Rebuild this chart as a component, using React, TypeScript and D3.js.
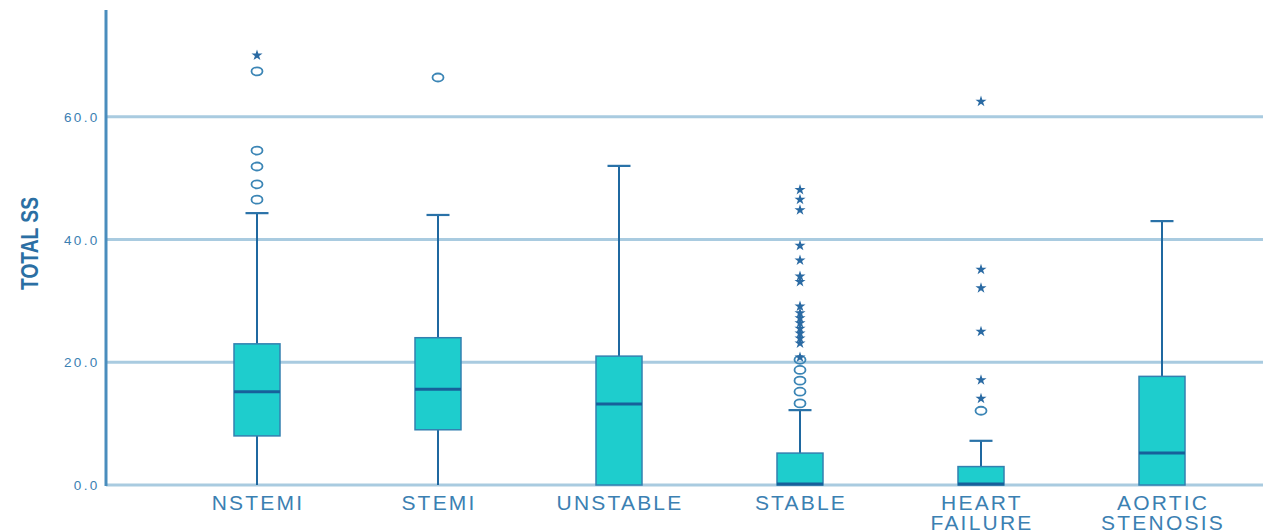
import React from "react";
import * as d3 from "d3";

const categories = ["NSTEMI", "STEMI", "UNSTABLE", "STABLE", "HEART FAILURE", "AORTIC STENOSIS"];
const whiskerLow = [0, 0, 0, 0, 0, 0];
const q1 = [8.0, 9.0, 0, 0, 0, 0];
const median = [15.2, 15.6, 13.2, 0, 0, 5.2];
const q3 = [23.0, 24.0, 21.0, 5.2, 3.0, 17.7];
const whiskerHigh = [44.3, 44.0, 52.0, 12.2, 7.2, 43.0];

const circleOutliers: number[][] = [
  [46.5, 49.0, 51.9, 54.5, 67.4],
  [66.4],
  [],
  [13.3, 15.2, 17.0, 18.75, 20.4],
  [12.1],
  [],
];
const starOutliers: number[][] = [
  [70.0],
  [],
  [],
  [20.8, 23.1, 23.9, 24.7, 25.5, 26.4, 27.2, 28.0, 29.1, 33.1, 34.0, 36.6, 39.0, 44.8, 46.5, 48.1],
  [14.1, 17.1, 25.0, 32.1, 35.1, 62.5],
  [],
];
const yTicks = [0, 20, 40, 60];
const yLabel = "TOTAL SS";

const W = 1263;
const H = 532;

export default function App() {
  const x = d3.scaleBand<string>().domain(categories).range([166.5, 1252.5]).padding(0);
  const y = d3.scaleLinear().domain([0, 77.4]).range([485, 10]);
  const bw = 46;
  const capW = 23;
  const star = d3.symbol().type(d3.symbolStar).size(38)() as string;

  const gridColor = "#a9cbe0";
  const axisColor = "#4a8dbd";
  const textColor = "#3b80b2";
  const lineColor = "#1f68a0";

  return (
    <svg width={W} height={H} style={{ position: "absolute", left: 0, top: 0, background: "#fff" }}>
      {yTicks.map((t) => (
        <g key={t}>
          <line x1={106} x2={W} y1={y(t)} y2={y(t)} stroke={gridColor} strokeWidth={3} />
          <text
            x={99.5}
            y={y(t) + 5}
            textAnchor="end"
            fontFamily="Liberation Sans, Arial, sans-serif"
            fontSize={13.5}
            letterSpacing={2.3}
            fill={textColor}
          >
            {d3.format(".1f")(t)}
          </text>
        </g>
      ))}
      <line x1={106} x2={106} y1={10} y2={486} stroke={axisColor} strokeWidth={3} />
      <text
        transform={`translate(38,243.5) rotate(-90)`}
        textAnchor="middle"
        fontFamily="Liberation Sans Narrow, Liberation Sans, Arial, sans-serif"
        fontWeight="bold"
        fontSize={24}
        textLength={93}
        lengthAdjust="spacingAndGlyphs"
        fill="#2b6fa3"
      >
        {yLabel}
      </text>

      {categories.map((c, i) => {
        const cx = (x(c) as number) + x.bandwidth() / 2;
        const words = c.split(" ");
        return (
          <g key={c}>
            <line x1={cx} x2={cx} y1={y(q3[i])} y2={y(whiskerHigh[i])} stroke={lineColor} strokeWidth={2} />
            <line x1={cx} x2={cx} y1={y(q1[i])} y2={y(whiskerLow[i])} stroke={lineColor} strokeWidth={2} />
            <line
              x1={cx - capW / 2}
              x2={cx + capW / 2}
              y1={y(whiskerHigh[i])}
              y2={y(whiskerHigh[i])}
              stroke="#2a72a8"
              strokeWidth={2.2}
            />
            <rect
              x={cx - bw / 2}
              y={y(q3[i])}
              width={bw}
              height={Math.max(0, y(q1[i]) - y(q3[i]))}
              fill="#1ecdcd"
              stroke="#3380b0"
              strokeWidth={1.5}
            />
            <line
              x1={cx - bw / 2}
              x2={cx + bw / 2}
              y1={y(median[i]) - (median[i] === 0 ? 1 : 0)}
              y2={y(median[i]) - (median[i] === 0 ? 1 : 0)}
              stroke="#17609a"
              strokeWidth={3}
            />
            {circleOutliers[i].map((v, k) => (
              <ellipse
                key={"c" + k}
                cx={cx}
                cy={y(v)}
                rx={5.5}
                ry={4}
                fill="none"
                stroke="#3b85b5"
                strokeWidth={1.8}
              />
            ))}
            {starOutliers[i].map((v, k) => (
              <path key={"s" + k} d={star} transform={`translate(${cx},${y(v)})`} fill="#2a6aa3" />
            ))}
            <text
              x={cx + 1}
              y={510}
              textAnchor="middle"
              fontFamily="Liberation Sans, Arial, sans-serif"
              fontSize={21}
              letterSpacing={2.2}
              fill={textColor}
            >
              {words.map((w, k) => (
                <tspan key={k} x={cx + 1} dy={k === 0 ? 0 : 20}>
                  {w}
                </tspan>
              ))}
            </text>
          </g>
        );
      })}
    </svg>
  );
}
